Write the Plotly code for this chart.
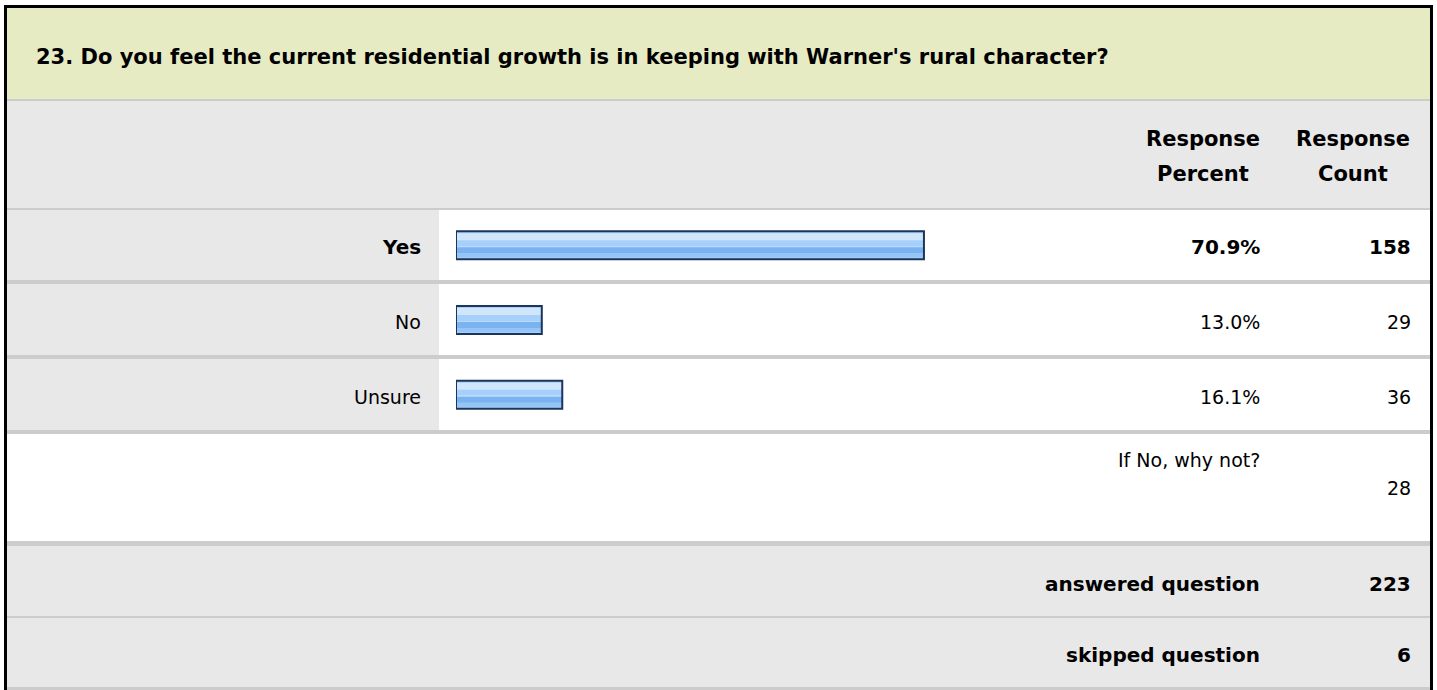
"""
Survey question 23 — response summary table with horizontal percent bars.
"""

import plotly.graph_objects as go

W, H = 1437, 690

question = "23. Do you feel the current residential growth is in keeping with Warner's rural character?"
choices = ["Yes", "No", "Unsure"]
percents = [70.9, 13.0, 16.1]
counts = [158, 29, 36]
other_label = "If No, why not?"
other_count = 28
summary_labels = ["answered question", "skipped question"]
summary_counts = [223, 6]
header_top = ["Response", "Response"]
header_bottom = ["Percent", "Count"]

FONT = "DejaVu Sans"
GREEN = "#e6ebc4"
GRAY = "#e8e8e8"
LINE = "#cccccc"
NAVY = "#1d355c"

# row geometry in page pixels
ROW_TOP, ROW_BOTTOM = 208, 432
ROW_PX = (ROW_BOTTOM - ROW_TOP) / len(choices)
BAR_PX = 28
BAR_X0, BAR_X100 = 456, 1116


def px(x):
    return x / W


def py(y):
    return 1 - y / H


def rect(x0, y0, x1, y1, color):
    return dict(type="rect", xref="paper", yref="paper", layer="below",
                x0=px(x0), x1=px(x1), y0=py(y1), y1=py(y0),
                fillcolor=color, line_width=0)


def label(x, y, s, size=19, bold=False, anchor="right"):
    return dict(xref="paper", yref="paper", x=px(x), y=py(y),
                text=f"<b>{s}</b>" if bold else s, showarrow=False,
                xanchor=anchor, yanchor="middle",
                font=dict(family=FONT, size=size, color="#000"))


def stripe(top_px, height_px, color, outline=False):
    # one horizontal band of the bar, placed relative to the row centre
    unit = 1 / ROW_PX
    return go.Bar(
        x=percents, y=list(range(len(choices))), orientation="h",
        width=height_px * unit, offset=(top_px - BAR_PX / 2) * unit,
        marker=dict(color="rgba(0,0,0,0)" if outline else color,
                    line=dict(color=NAVY if outline else color, width=2 if outline else 0)),
        hoverinfo="skip", showlegend=False,
    )


fig = go.Figure()
fig.add_trace(stripe(0, BAR_PX, "#a6d0fa"))
fig.add_trace(stripe(2, 7, "#cfe6fd"))
fig.add_trace(stripe(15, 1, "#b8dafb"))
fig.add_trace(stripe(16, 6, "#7ab3f0"))
fig.add_trace(stripe(22, 4, "#93c5f7"))
fig.add_trace(stripe(0, BAR_PX, NAVY, outline=True))

# table background
shapes = [
    rect(7, 8, 1430, 99, GREEN),
    rect(7, 99, 1430, 101, LINE),
    rect(7, 101, 1430, 208, GRAY),
    rect(7, 208, 1430, 210, LINE),
    rect(7, 210, 1430, 434, "white"),
    rect(7, 210, 439, 434, GRAY),
    rect(7, 280, 1430, 284, LINE),
    rect(7, 355, 1430, 359, LINE),
    rect(7, 430, 1430, 434, LINE),
    rect(7, 434, 1430, 541, "white"),
    rect(7, 541, 1430, 546, LINE),
    rect(7, 546, 1430, 688, GRAY),
    rect(7, 616, 1430, 618, LINE),
    rect(7, 687, 1430, 690, LINE),
    # outer frame
    rect(4, 5, 1433, 8, "#000"),
    rect(4, 5, 7, 690, "#000"),
    rect(1430, 5, 1433, 690, "#000"),
]

annotations = [label(34, 57, question, size=21, bold=True, anchor="left")]
for cx, top, bottom in zip([1203, 1353], header_top, header_bottom):
    annotations.append(label(cx, 139, top, size=21, bold=True, anchor="center"))
    annotations.append(label(cx, 174, bottom, size=21, bold=True, anchor="center"))

top_idx = percents.index(max(percents))
for i, (name, pct, cnt) in enumerate(zip(choices, percents, counts)):
    yc = ROW_TOP + ROW_PX * (i + 0.5) + 2
    bold = i == top_idx
    annotations.append(label(423, yc, name, size=20 if bold else 19, bold=bold))
    annotations.append(label(1262, yc, f"{pct:.1f}%", size=20 if bold else 19, bold=bold))
    annotations.append(label(1413, yc, str(cnt), size=20 if bold else 19, bold=bold))

annotations.append(label(1262, 460, other_label))
annotations.append(label(1413, 488, str(other_count)))

for yc, name, cnt in zip([584, 655], summary_labels, summary_counts):
    annotations.append(label(1262, yc, name, size=20, bold=True))
    annotations.append(label(1413, yc, str(cnt), size=20, bold=True))

fig.update_layout(
    width=W, height=H,
    margin=dict(l=0, r=0, t=0, b=0),
    paper_bgcolor="white",
    plot_bgcolor="rgba(0,0,0,0)",
    barmode="overlay",
    xaxis=dict(domain=[px(BAR_X0), px(BAR_X100)], range=[0, 100], visible=False, fixedrange=True),
    yaxis=dict(domain=[py(ROW_BOTTOM), py(ROW_TOP)], range=[len(choices) - 0.5, -0.5],
               visible=False, fixedrange=True),
    shapes=shapes,
    annotations=annotations,
    showlegend=False,
)

# the page body has a default 8px margin; drop it so the table sits at the window edge
fig.write_html("out.html", config={"displayModeBar": False},
               post_script="document.body.style.margin='0px';")
